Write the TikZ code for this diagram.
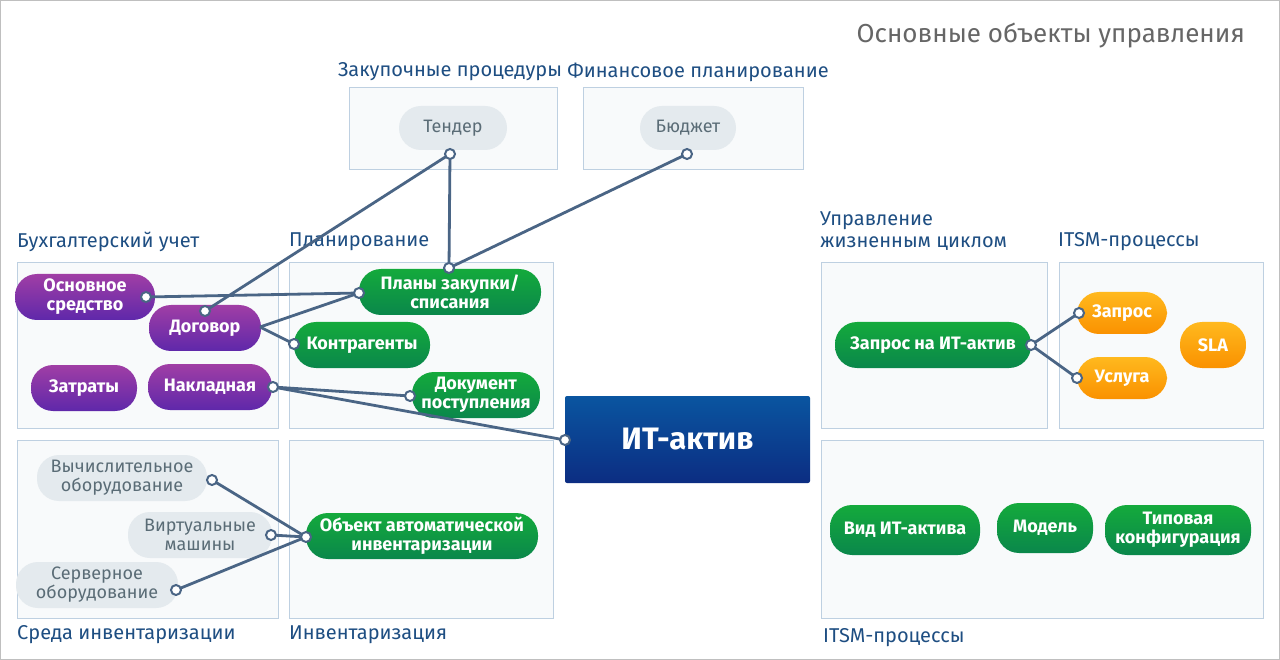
\documentclass[tikz,border=0pt]{standalone}
\usepackage{fontspec}
\setmainfont{Fira Sans}
\definecolor{pnlfill}{RGB}{248,250,251}
\definecolor{pnldraw}{RGB}{190,208,225}
\definecolor{lblc}{RGB}{30,78,130}
\definecolor{conc}{RGB}{74,101,133}
\definecolor{gryf}{RGB}{228,234,238}
\definecolor{gryt}{RGB}{90,108,118}
\definecolor{purT}{RGB}{160,62,165}
\definecolor{purB}{RGB}{95,40,170}
\definecolor{grT}{RGB}{20,170,60}
\definecolor{grB}{RGB}{10,135,75}
\definecolor{orT}{RGB}{255,185,30}
\definecolor{orB}{RGB}{250,145,0}
\definecolor{blT}{RGB}{10,85,160}
\definecolor{blB}{RGB}{12,45,130}
\begin{document}
\begin{tikzpicture}[x=1pt,y=-1pt,
panel/.style={draw=pnldraw, line width=1pt, fill=pnlfill},
lbl/.style={text=lblc, font=\fontsize{20}{22}\selectfont, inner sep=0pt},
pill/.style={rounded corners=22pt, minimum height=44pt, text=white, align=center, font=\bfseries\fontsize{18}{19}\selectfont, inner sep=2pt},
purp/.style={pill, top color=purT, bottom color=purB},
grn/.style={pill, top color=grT, bottom color=grB},
org/.style={pill, top color=orT, bottom color=orB, minimum height=42pt},
gry/.style={pill, fill=gryf, text=gryt, font=\fontsize{18}{19}\selectfont},
con/.style={draw=conc, line width=2.8pt},
dot/.style={circle, draw=conc, line width=2pt, fill=white, inner sep=0pt, minimum size=10pt}]
\useasboundingbox (0,0) rectangle (1280,660);
\fill[white] (0,0) rectangle (1280,660);
\draw[gray!50, line width=1pt] (0.5,0.5) rectangle (1279.5,659.5);
% panels
\draw[panel] (349,88) rectangle (557,170);
\draw[panel] (583,88) rectangle (803,170);
\draw[panel] (17,263) rectangle (278,428);
\draw[panel] (289,263) rectangle (553,428);
\draw[panel] (17,440) rectangle (278,618);
\draw[panel] (289,440) rectangle (553,618);
\draw[panel] (821,263) rectangle (1047,428);
\draw[panel] (1059,263) rectangle (1263,428);
\draw[panel] (821,440) rectangle (1263,618);
% labels
\node[text=gray!80!black, font=\fontsize{26}{28}\selectfont, anchor=east, inner sep=0pt] (title) at (1245,36) {Основные объекты управления};
\node[lbl] (l1) at (450,72) {Закупочные процедуры};
\node[lbl] (l2) at (698,72) {Финансовое планирование};
\node[lbl, anchor=west] (l3) at (17,242) {Бухгалтерский учет};
\node[lbl, anchor=west] (l4) at (289,242) {Планирование};
\node[lbl, anchor=west, align=left] (l5) at (820,231) {Управление\\жизненным циклом};
\node[lbl, anchor=west] (l6) at (1058,242) {ITSM-процессы};
\node[lbl, anchor=west] (l7) at (17,635) {Среда инвентаризации};
\node[lbl, anchor=west] (l8) at (289,635) {Инвентаризация};
\node[lbl, anchor=west] (l9) at (823,638) {ITSM-процессы};
% pills
\node[gry, minimum width=108pt] (tender) at (453,128) {Тендер};
\node[gry, minimum width=96pt] (budget) at (688,128) {Бюджет};
\node[purp, minimum width=140pt, minimum height=46pt] (os) at (85,297) {Основное\\средство};
\node[purp, minimum width=112pt, minimum height=46pt] (dog) at (205,328) {Договор};
\node[purp, minimum width=106pt, minimum height=46pt] (zat) at (84,388) {Затраты};
\node[purp, minimum width=124pt, minimum height=46pt] (nakl) at (210,387) {Накладная};
\node[grn, minimum width=182pt, minimum height=46pt] (plan) at (450,292) {Планы закупки/\\списания};
\node[grn, minimum width=136pt, minimum height=46pt] (kontr) at (362,345) {Контрагенты};
\node[grn, minimum width=128pt, minimum height=46pt] (doc) at (476,395) {Документ\\поступления};
\node[rectangle, rounded corners=2pt, top color=blT, bottom color=blB, minimum width=245pt, minimum height=87pt, text=white, font=\bfseries\fontsize{31}{33}\selectfont] (it) at (687.5,439.5) {ИТ-актив};
\node[gry, minimum width=170pt, minimum height=46pt] (vych) at (122,478) {Вычислительное\\оборудование};
\node[gry, minimum width=144pt, minimum height=46pt] (virt) at (200,535) {Виртуальные\\машины};
\node[gry, minimum width=162pt, minimum height=46pt] (serv) at (97,585) {Серверное\\оборудование};
\node[grn, minimum width=232pt, minimum height=46pt] (obj) at (422,536) {Объект автоматической\\инвентаризации};
\node[grn, minimum width=196pt, minimum height=46pt] (zapit) at (933,345) {Запрос на ИТ-актив};
\node[org, minimum width=90pt] (zap) at (1122,313) {Запрос};
\node[org, minimum width=90pt] (usl) at (1122,378) {Услуга};
\node[org, minimum width=66pt, minimum height=46pt] (sla) at (1213,345) {SLA};
\node[grn, minimum width=150pt, minimum height=50pt] (vid) at (905,530) {Вид ИТ-актива};
\node[grn, minimum width=96pt, minimum height=50pt] (mod) at (1045,528) {Модель};
\node[grn, minimum width=146pt, minimum height=50pt] (tip) at (1178,530) {Типовая\\конфигурация};
% dot coordinates
\coordinate (cT) at (450,154);
\coordinate (cB) at (687,154);
\coordinate (cD) at (205,311);
\coordinate (cD2) at (260,327);
\coordinate (cPt) at (449,268);
\coordinate (cPl) at (359,293);
\coordinate (cOS) at (146,297);
\coordinate (cK) at (294,344);
\coordinate (cN) at (273,387);
\coordinate (cDoc) at (410,396);
\coordinate (cIT) at (565,440);
\coordinate (cV) at (212,480);
\coordinate (cVM) at (271,535);
\coordinate (cS) at (176,590);
\coordinate (cO) at (306,537);
\coordinate (cZI) at (1031,345);
\coordinate (cZ) at (1079,313);
\coordinate (cU) at (1077,378);
% connectors
\draw[con] (cT) -- (cD);
\draw[con] (cT) -- (cPt);
\draw[con] (cB) -- (cPt);
\draw[con] (cOS) -- (cPl);
\draw[con] (cD2) -- (cPl);
\draw[con] (cD2) -- (cK);
\draw[con] (cN) -- (cDoc);
\draw[con] (cN) -- (cIT);
\draw[con] (cV) -- (cO);
\draw[con] (cVM) -- (cO);
\draw[con] (cS) -- (cO);
\draw[con] (cZI) -- (cZ);
\draw[con] (cZI) -- (cU);
\foreach \c in {cT,cB,cD,cPt,cPl,cOS,cK,cN,cDoc,cIT,cV,cVM,cS,cO,cZI,cZ,cU}
  \node[dot] at (\c) {};
\end{tikzpicture}
\end{document}
